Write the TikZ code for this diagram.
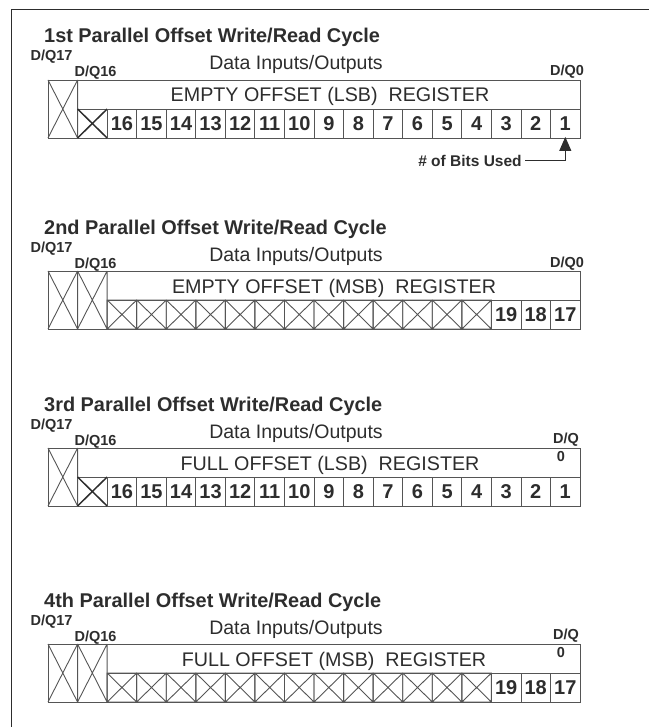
\documentclass[tikz,border=0pt]{standalone}
\usepackage{fontspec}
\setmainfont{Liberation Sans}
\usetikzlibrary{arrows.meta}
\definecolor{txt}{RGB}{45,45,45}
\definecolor{ln}{RGB}{85,85,85}
\newcommand{\cw}{29.56}
\begin{document}
\begin{tikzpicture}[x=1pt, y=-1pt,
    cyc/.style={anchor=base west, inner sep=0pt, font=\fontsize{19.9}{22}\selectfont\bfseries, text=txt},
    pinlbl/.style={anchor=base, inner sep=0pt, font=\fontsize{14.5}{16}\selectfont\bfseries, text=txt},
    iolbl/.style={anchor=base, inner sep=0pt, font=\fontsize{19.5}{22}\selectfont, text=txt},
    reglbl/.style={anchor=base, inner sep=0pt, font=\fontsize{19.7}{22}\selectfont, text=txt},
    bitcell/.style={draw=ln, line width=0.9pt, minimum width=\cw pt, minimum height=29pt, inner sep=0pt,
      font=\fontsize{20}{22}\selectfont\bfseries, text=txt},
    cell/.style={draw=ln, line width=0.9pt},
    unused/.style={draw=txt, line width=1.5pt},
    ptr/.style={draw=txt, line width=1pt, -{Triangle[width=12pt,length=14pt]}, shorten >=-1.5pt},
    frame/.style={draw=txt, line width=1.6pt}]
  \useasboundingbox (0,0) rectangle (649,727);
  \draw[frame] (11.5,727) -- (11.5,9.5) -- (649,9.5);

  % 1st cycle: LSB of the empty offset
  \begin{scope}[shift={(0,80)}]
    \node[cyc] (t1) at (44,-37) {1st Parallel Offset Write/Read Cycle};
    \node[pinlbl] (p1q17) at (51.5,-19) {D/Q17};
    \node[pinlbl] (p1q16) at (95.5,-3) {D/Q16};
    \node[iolbl] (p1io) at (296,-10) {Data Inputs/Outputs};
    \node[pinlbl] (p1q0) at (567,-4) {D/Q0};
    \draw[cell] (48,0) rectangle (580,58);
    \draw[cell] (48,0) -- ++(\cw,58) ++(0,-58) -- ++(-\cw,58) ++(\cw,-58) -- ++(0,58);
    \draw[cell] (77.56,29) -- (580,29);
    \node[reglbl] (p1reg) at (330,22) {EMPTY OFFSET (LSB)\ \ REGISTER};
    \draw[unused] (77.56,29) -- ++(\cw,29) ++(0,-29) -- ++(-\cw,29);
    \foreach \n in {16,...,1}
      \node[bitcell] (p1c\n) at ({48+(18.5-\n)*\cw},43.5) {\n};
    \node[text=txt, font=\fontsize{15.5}{18}\selectfont\bfseries] (bits) at (470,81) {\# of Bits Used};
    \draw[ptr] (bits.east) -| (p1c1.south);
  \end{scope}

  % 2nd cycle: MSB of the empty offset
  \begin{scope}[shift={(0,271)}]
    \node[cyc] (t2) at (44,-37) {2nd Parallel Offset Write/Read Cycle};
    \node[pinlbl] (p2q17) at (51.5,-19) {D/Q17};
    \node[pinlbl] (p2q16) at (95.5,-3) {D/Q16};
    \node[iolbl] (p2io) at (296,-10) {Data Inputs/Outputs};
    \node[pinlbl] (p2q0) at (567,-4) {D/Q0};
    \draw[cell] (48,0) rectangle (580,58);
    \foreach \i in {0,1}
      \draw[cell] ({48+\i*\cw},0) -- ++(\cw,58) ++(0,-58) -- ++(-\cw,58) ++(\cw,-58) -- ++(0,58);
    \draw[cell] (107.12,29) -- (580,29);
    \node[reglbl] (p2reg) at (334,22) {EMPTY OFFSET (MSB)\ \ REGISTER};
    \foreach \i in {2,...,14}
      \draw[cell] ({48+\i*\cw},29) rectangle ++(\cw,29) -- ++(-\cw,-29) ++(0,29) -- ++(\cw,-29);
    \foreach \n in {19,18,17}
      \node[bitcell] (p2c\n) at ({48+(34.5-\n)*\cw},43.5) {\n};
  \end{scope}

  % 3rd cycle: LSB of the full offset
  \begin{scope}[shift={(0,448)}]
    \node[cyc] (t3) at (44,-37) {3rd Parallel Offset Write/Read Cycle};
    \node[pinlbl] (p3q17) at (51.5,-19) {D/Q17};
    \node[pinlbl] (p3q16) at (95.5,-3) {D/Q16};
    \node[iolbl] (p3io) at (296,-10) {Data Inputs/Outputs};
    \node[pinlbl] (p3q0) at (566,-5) {D/Q};
    \node[pinlbl] (p3q0n) at (561,13) {0};
    \draw[cell] (48,0) rectangle (580,58);
    \draw[cell] (48,0) -- ++(\cw,58) ++(0,-58) -- ++(-\cw,58) ++(\cw,-58) -- ++(0,58);
    \draw[cell] (77.56,29) -- (580,29);
    \node[reglbl] (p3reg) at (330,22) {FULL OFFSET (LSB)\ \ REGISTER};
    \draw[unused] (77.56,29) -- ++(\cw,29) ++(0,-29) -- ++(-\cw,29);
    \foreach \n in {16,...,1}
      \node[bitcell] (p3c\n) at ({48+(18.5-\n)*\cw},43.5) {\n};
  \end{scope}

  % 4th cycle: MSB of the full offset
  \begin{scope}[shift={(0,644)}]
    \node[cyc] (t4) at (44,-37) {4th Parallel Offset Write/Read Cycle};
    \node[pinlbl] (p4q17) at (51.5,-19) {D/Q17};
    \node[pinlbl] (p4q16) at (95.5,-3) {D/Q16};
    \node[iolbl] (p4io) at (296,-10) {Data Inputs/Outputs};
    \node[pinlbl] (p4q0) at (566,-5) {D/Q};
    \node[pinlbl] (p4q0n) at (561,13) {0};
    \draw[cell] (48,0) rectangle (580,58);
    \foreach \i in {0,1}
      \draw[cell] ({48+\i*\cw},0) -- ++(\cw,58) ++(0,-58) -- ++(-\cw,58) ++(\cw,-58) -- ++(0,58);
    \draw[cell] (107.12,29) -- (580,29);
    \node[reglbl] (p4reg) at (334,22) {FULL OFFSET (MSB)\ \ REGISTER};
    \foreach \i in {2,...,14}
      \draw[cell] ({48+\i*\cw},29) rectangle ++(\cw,29) -- ++(-\cw,-29) ++(0,29) -- ++(\cw,-29);
    \foreach \n in {19,18,17}
      \node[bitcell] (p4c\n) at ({48+(34.5-\n)*\cw},43.5) {\n};
  \end{scope}
\end{tikzpicture}
\end{document}
